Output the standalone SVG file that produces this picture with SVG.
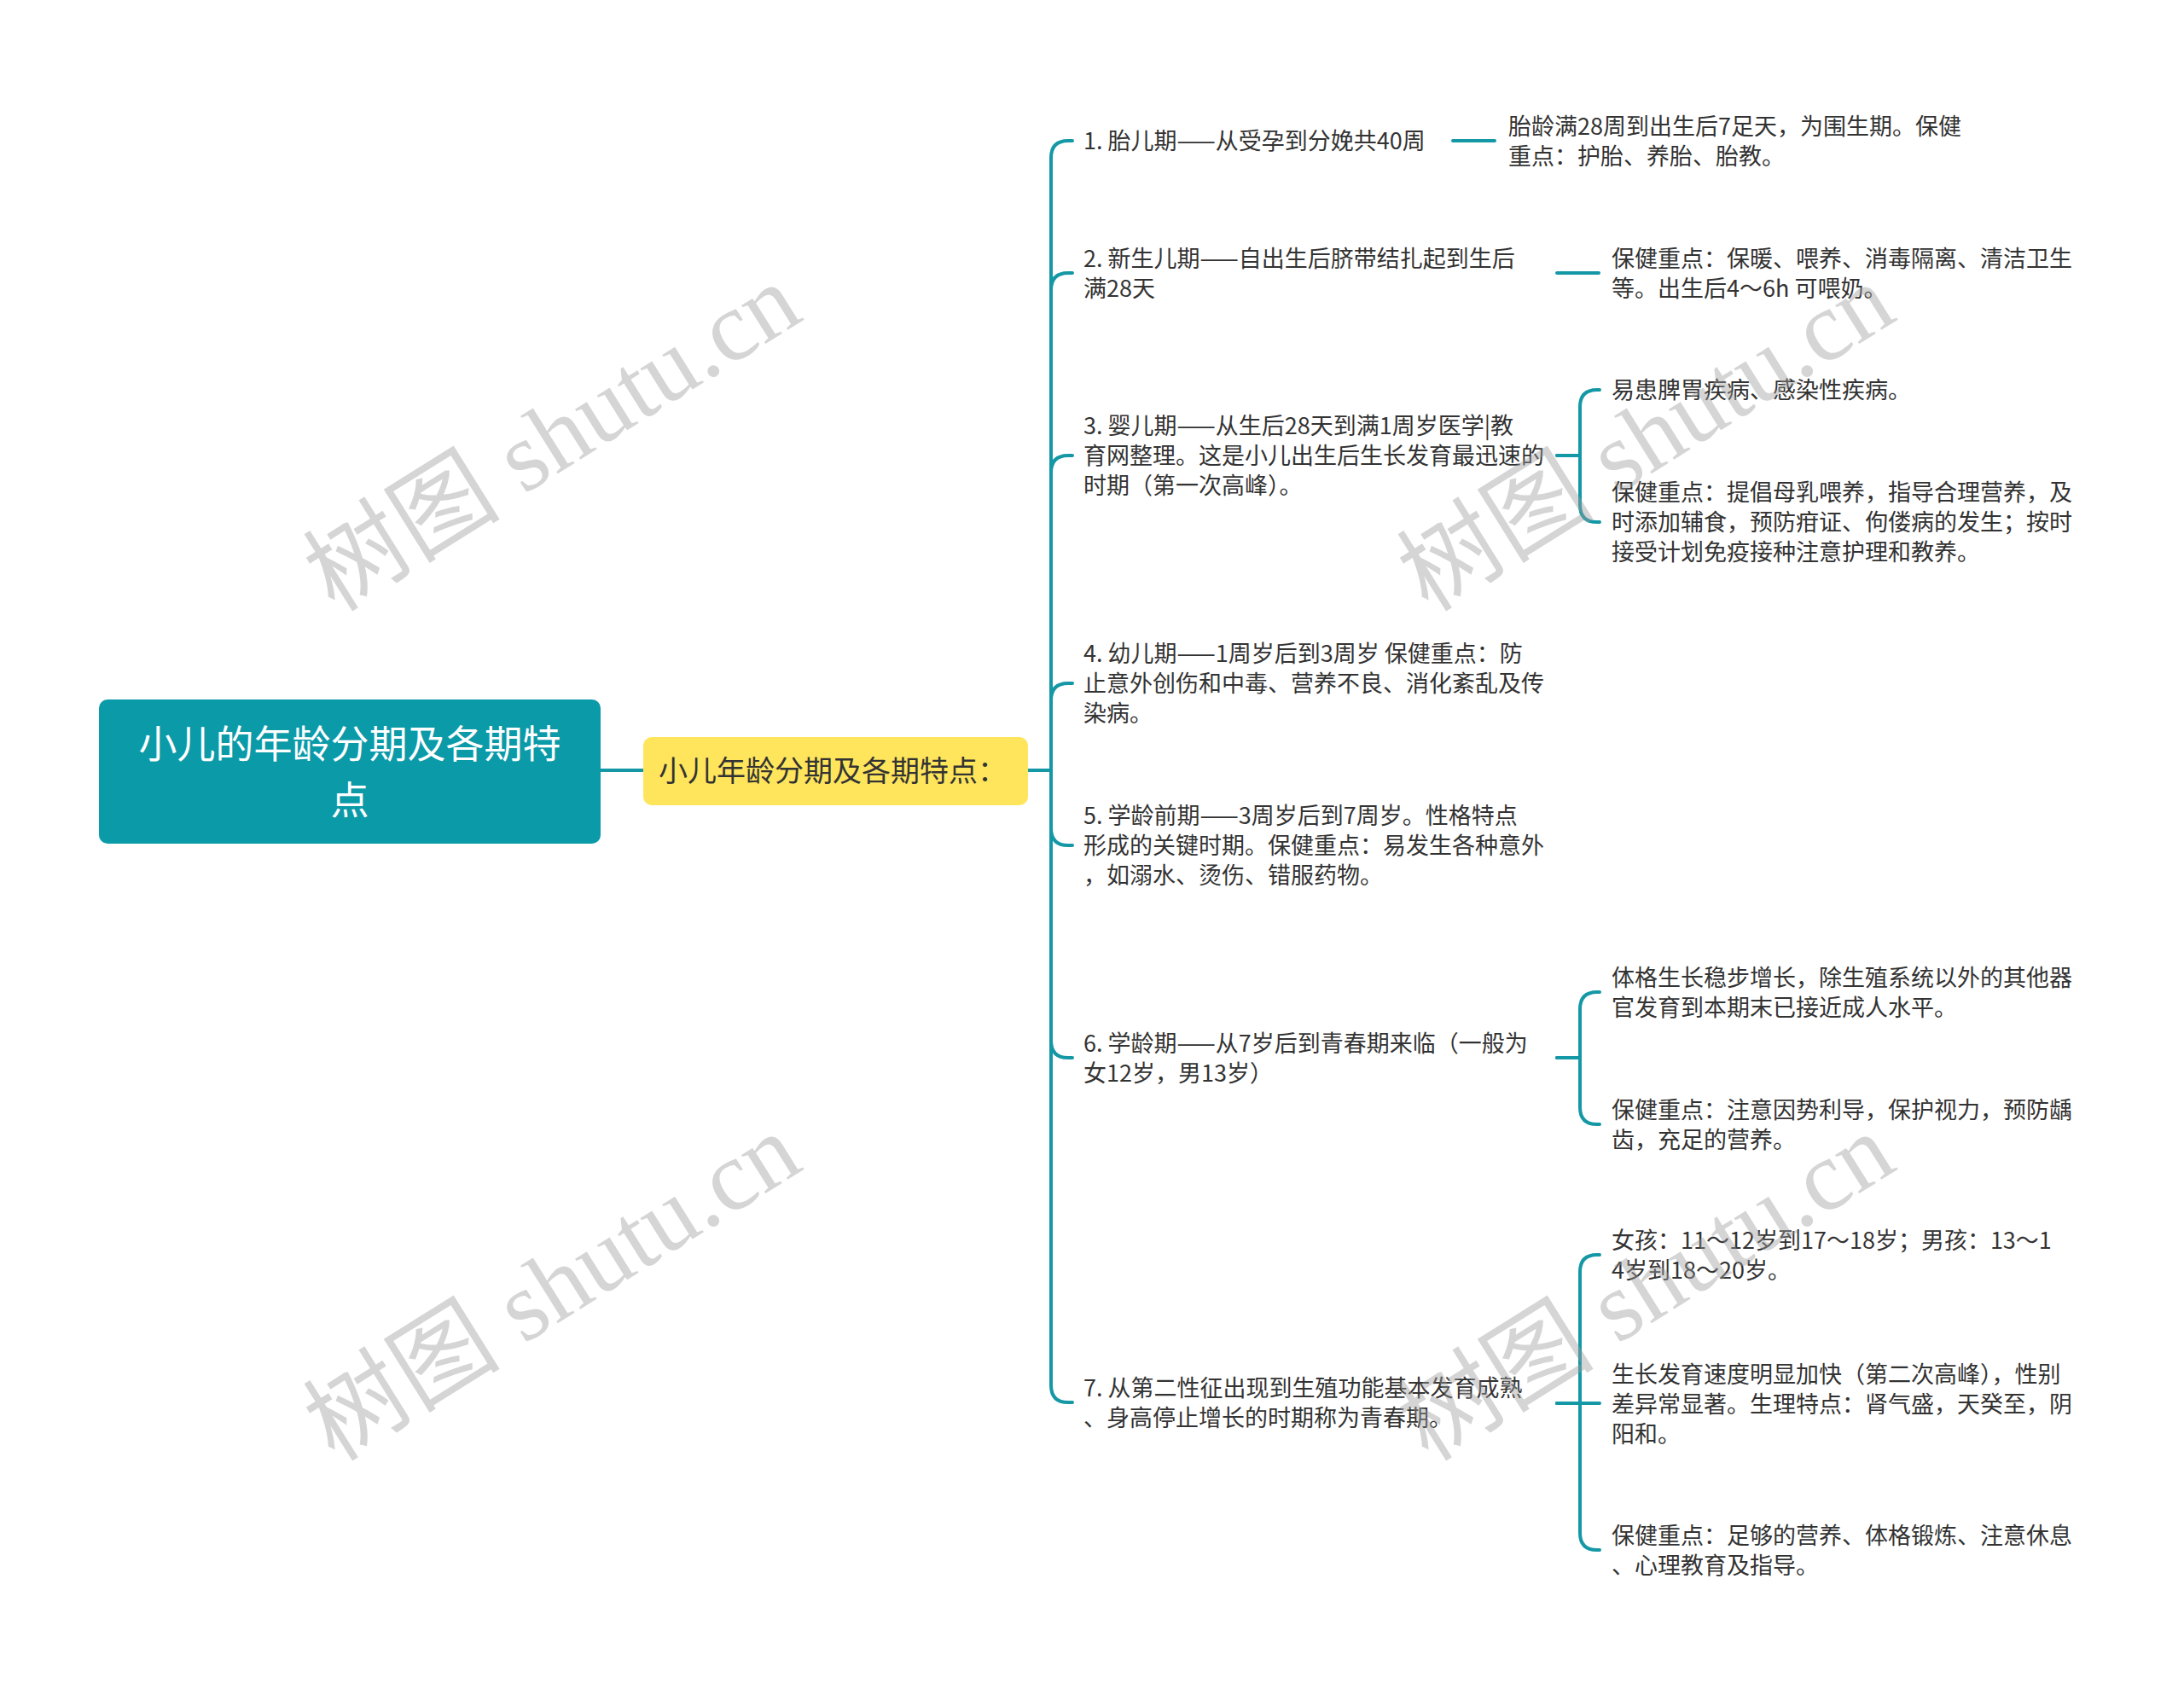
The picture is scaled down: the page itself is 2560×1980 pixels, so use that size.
<svg xmlns="http://www.w3.org/2000/svg" width="2560" height="1980" viewBox="0 0 2560 1980">
<style>
.t{font-family:"Noto Sans CJK SC","Noto Sans",sans-serif;font-size:27px;fill:#333333}
.root{font-family:"Noto Sans CJK SC","Noto Sans",sans-serif;font-size:45px;fill:#ffffff}
.sub{font-family:"Noto Sans CJK SC","Noto Sans",sans-serif;font-size:34px;fill:#333333}
.c{fill:none;stroke:#1598a6;stroke-width:4;stroke-linecap:round;stroke-linejoin:round}
.wm{font-family:"Liberation Serif","Noto Sans CJK SC",serif;font-size:116px;fill:#9a9a9a;fill-opacity:0.42}
</style>
<rect width="2560" height="1980" fill="#ffffff"/>
<g id="connectors">
<path class="c" d="M704 903 H754"/>
<path class="c" d="M1205 903 H1232 V185 Q1232 165 1252 165 H1257"/>
<path class="c" d="M1205 903 H1232 V340 Q1232 320 1252 320 H1257"/>
<path class="c" d="M1205 903 H1232 V554 Q1232 534 1252 534 H1257"/>
<path class="c" d="M1205 903 H1232 V821 Q1232 801 1252 801 H1257"/>
<path class="c" d="M1205 903 H1232 V971 Q1232 991 1252 991 H1257"/>
<path class="c" d="M1205 903 H1232 V1220 Q1232 1240 1252 1240 H1257"/>
<path class="c" d="M1205 903 H1232 V1624 Q1232 1644 1252 1644 H1257"/>
<path class="c" d="M1703 165 H1752"/>
<path class="c" d="M1825 320 H1874"/>
<path class="c" d="M1825 534 H1852 V477 Q1852 457 1872 457 H1875"/>
<path class="c" d="M1825 534 H1852 V592 Q1852 612 1872 612 H1875"/>
<path class="c" d="M1825 1240 H1852 V1183 Q1852 1163 1872 1163 H1875"/>
<path class="c" d="M1825 1240 H1852 V1298 Q1852 1318 1872 1318 H1875"/>
<path class="c" d="M1825 1645 H1852 V1491 Q1852 1471 1872 1471 H1875"/>
<path class="c" d="M1825 1645 H1875"/>
<path class="c" d="M1825 1645 H1852 V1797 Q1852 1817 1872 1817 H1875"/>
</g>
<g id="root">
<rect x="116" y="820" width="588" height="169" rx="10" fill="#0b9aa8"/>
<text class="root" text-anchor="middle"><tspan x="410" y="888.5">小儿的年龄分期及各期特</tspan><tspan x="410" y="954.5">点</tspan></text>
</g>
<g id="sub">
<rect x="754" y="864" width="451" height="80" rx="10" fill="#ffe55c"/>
<text class="sub" x="772" y="916">小儿年龄分期及各期特点：</text>
</g>
<g id="c1"><text class="t" x="1270" y="175">1. 胎儿期——从受孕到分娩共40周</text></g>
<g id="g1"><text class="t" x="1768" y="157.5">胎龄满28周到出生后7足天，为围生期。保健</text><text class="t" x="1768" y="192.5">重点：护胎、养胎、胎教。</text></g>
<g id="c2"><text class="t" x="1270" y="312.5">2. 新生儿期——自出生后脐带结扎起到生后</text><text class="t" x="1270" y="347.5">满28天</text></g>
<g id="g2"><text class="t" x="1889" y="312.5">保健重点：保暖、喂养、消毒隔离、清洁卫生</text><text class="t" x="1889" y="347.5">等。出生后4～6h 可喂奶。</text></g>
<g id="c3"><text class="t" x="1270" y="509">3. 婴儿期——从生后28天到满1周岁医学|教</text><text class="t" x="1270" y="544">育网整理。这是小儿出生后生长发育最迅速的</text><text class="t" x="1270" y="579">时期（第一次高峰）。</text></g>
<g id="g3a"><text class="t" x="1889" y="467">易患脾胃疾病、感染性疾病。</text></g>
<g id="g3b"><text class="t" x="1889" y="587">保健重点：提倡母乳喂养，指导合理营养，及</text><text class="t" x="1889" y="622">时添加辅食，预防疳证、佝偻病的发生；按时</text><text class="t" x="1889" y="657">接受计划免疫接种注意护理和教养。</text></g>
<g id="c4"><text class="t" x="1270" y="776">4. 幼儿期——1周岁后到3周岁 保健重点：防</text><text class="t" x="1270" y="811">止意外创伤和中毒、营养不良、消化紊乱及传</text><text class="t" x="1270" y="846">染病。</text></g>
<g id="c5"><text class="t" x="1270" y="966">5. 学龄前期——3周岁后到7周岁。性格特点</text><text class="t" x="1270" y="1001">形成的关键时期。保健重点：易发生各种意外</text><text class="t" x="1270" y="1036">，如溺水、烫伤、错服药物。</text></g>
<g id="c6"><text class="t" x="1270" y="1232.5">6. 学龄期——从7岁后到青春期来临（一般为</text><text class="t" x="1270" y="1267.5">女12岁，男13岁）</text></g>
<g id="g6a"><text class="t" x="1889" y="1155.5">体格生长稳步增长，除生殖系统以外的其他器</text><text class="t" x="1889" y="1190.5">官发育到本期末已接近成人水平。</text></g>
<g id="g6b"><text class="t" x="1889" y="1310.5">保健重点：注意因势利导，保护视力，预防龋</text><text class="t" x="1889" y="1345.5">齿，充足的营养。</text></g>
<g id="c7"><text class="t" x="1270" y="1636.5">7. 从第二性征出现到生殖功能基本发育成熟</text><text class="t" x="1270" y="1671.5">、身高停止增长的时期称为青春期。</text></g>
<g id="g7a"><text class="t" x="1889" y="1463.5">女孩：11～12岁到17～18岁；男孩：13～1</text><text class="t" x="1889" y="1498.5">4岁到18～20岁。</text></g>
<g id="g7b"><text class="t" x="1889" y="1621">生长发育速度明显加快（第二次高峰），性别</text><text class="t" x="1889" y="1656">差异常显著。生理特点：肾气盛，天癸至，阴</text><text class="t" x="1889" y="1691">阳和。</text></g>
<g id="g7c"><text class="t" x="1889" y="1809.5">保健重点：足够的营养、体格锻炼、注意休息</text><text class="t" x="1889" y="1844.5">、心理教育及指导。</text></g>
<g id="watermarks">
<text class="wm" x="648" y="552" text-anchor="middle" transform="rotate(-32 648 514)">树图 shutu.cn</text>
<text class="wm" x="1930" y="552" text-anchor="middle" transform="rotate(-32 1930 514)">树图 shutu.cn</text>
<text class="wm" x="648" y="1548" text-anchor="middle" transform="rotate(-32 648 1510)">树图 shutu.cn</text>
<text class="wm" x="1930" y="1548" text-anchor="middle" transform="rotate(-32 1930 1510)">树图 shutu.cn</text>
</g>
</svg>
